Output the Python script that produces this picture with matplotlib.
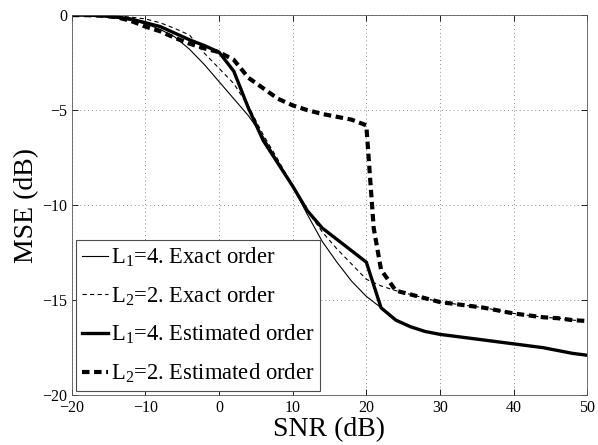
import matplotlib
matplotlib.use("Agg")
import matplotlib.pyplot as plt
import numpy as np

plt.rcParams['font.family'] = ['Liberation Serif', 'DejaVu Serif']
plt.rcParams['mathtext.fontset'] = 'custom'
plt.rcParams['mathtext.rm'] = 'Liberation Serif'
plt.rcParams['mathtext.it'] = 'Liberation Serif:italic'

snr = [-20, -18, -16, -14, -12, -10, -8, -6, -4, -2, 0, 2, 4, 6, 8, 10, 12, 14, 16, 18,
       20, 22, 24, 26, 28, 30, 32, 34, 36, 38, 40, 42, 44, 46, 48, 50]

l1_exact = [0, -0.02, -0.06, -0.15, -0.28, -0.45, -0.75, -1.15, -1.8, -2.6, -3.5, -4.4,
            -5.3, -6.4, -7.7, -9.0, -10.5, -11.9, -13.0, -14.0, -14.8, -15.4, -16.05,
            -16.4, -16.65, -16.8, -16.9, -17.0, -17.1, -17.2, -17.3, -17.4, -17.5,
            -17.65, -17.8, -17.9]

l2_exact = [0, 0, -0.02, -0.05, -0.1, -0.2, -0.4, -0.7, -1.05, -2.0, -2.8, -3.6,
            -4.8, -6.3, -7.6, -9.0, -10.3, -11.4, -12.3, -13.1, -13.9, -14.25, -14.5,
            -14.7, -14.9, -15.1, -15.2, -15.3, -15.4, -15.55, -15.7, -15.8, -15.9,
            -15.95, -16.05, -16.1]

l1_est = [0, 0, -0.03, -0.1, -0.2, -0.4, -0.6, -0.95, -1.3, -1.6, -1.95, -2.95,
          -4.9, -6.6, -7.8, -9.0, -10.3, -11.2, -11.8, -12.4, -13.0, -15.4, -16.05,
          -16.4, -16.65, -16.8, -16.9, -17.0, -17.1, -17.2, -17.3, -17.4, -17.5,
          -17.65, -17.8, -17.9]

snr_l2_est = [-20, -18, -16, -14, -12, -10, -8, -6, -4, -2, 0, 2, 4, 6, 8, 10, 12, 14,
              16, 18, 20, 21, 22, 24, 26, 28, 30, 32, 34, 36, 38, 40, 42, 44, 46, 48, 50]
l2_est = [0, 0, -0.03, -0.1, -0.3, -0.6, -0.85, -1.2, -1.5, -1.75, -1.95, -2.35,
          -3.3, -3.85, -4.4, -4.75, -5.0, -5.2, -5.35, -5.5, -5.8, -11.2, -13.4,
          -14.5, -14.7, -14.9, -15.1, -15.2, -15.3, -15.4, -15.55, -15.7, -15.8,
          -15.9, -15.95, -16.05, -16.1]

labels = ['L$_1$=4. Exact order', 'L$_2$=2. Exact order',
          'L$_1$=4. Estimated order', 'L$_2$=2. Estimated order']

fig = plt.figure(figsize=(5.98, 4.45), dpi=100)
ax = fig.add_axes([0.120, 0.112, 0.862, 0.854])

ax.plot(snr, l1_exact, color='black', lw=0.8, label=labels[0])
ax.plot(snr, l2_exact, color='black', lw=0.8, dashes=(3.8, 3), label=labels[1])
ax.plot(snr, l1_est, color='black', lw=2.4, label=labels[2])
ax.plot(snr_l2_est, l2_est, color='black', lw=3.0, dashes=(1.8, 1.1), label=labels[3])

ax.set_xlim(-20, 50)
ax.set_ylim(-20, 0)
ax.set_xticks(np.arange(-20, 51, 10))
ax.set_yticks(np.arange(-20, 1, 5))
ax.grid(True, linestyle=(0, (1, 3)), color='0.55', linewidth=0.7)
ax.tick_params(direction='in', top=True, right=True, labelsize=11.5, length=4, width=0.6)
for s in ax.spines.values():
    s.set_linewidth(0.6)
    s.set_color('0.35')

ax.set_xlabel('SNR (dB)', fontsize=20, labelpad=1)
ax.set_ylabel('MSE (dB)', fontsize=20, labelpad=2)

leg = ax.legend(loc='lower left', fontsize=16.3, handlelength=1.15, handletextpad=0.15,
                labelspacing=0.68, borderaxespad=0.2, borderpad=0.25,
                fancybox=False, framealpha=1, edgecolor='0.3')
leg.get_frame().set_linewidth(0.8)

fig.savefig('out.png', dpi=100)
